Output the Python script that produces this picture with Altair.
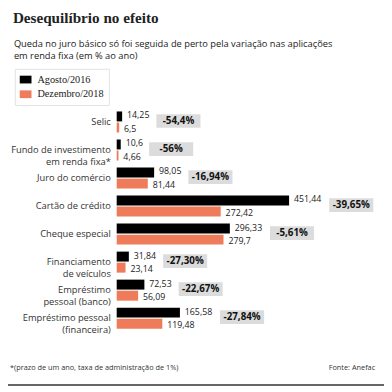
import altair as alt
import pandas as pd

categories = [
    "Selic",
    "Fundo de investimento\nem renda fixa*",
    "Juro do comércio",
    "Cartão de crédito",
    "Cheque especial",
    "Financiamento\nde veículos",
    "Empréstimo\npessoal (banco)",
    "Empréstimo pessoal\n(financeira)",
]
series = ["Agosto/2016", "Dezembro/2018"]
ago = [14.25, 10.6, 98.05, 451.44, 296.33, 31.84, 72.53, 165.58]
dez = [6.5, 4.66, 81.44, 272.42, 279.7, 23.14, 56.09, 119.48]
ago_labels = ["14,25", "10,6", "98,05", "451,44", "296,33", "31,84", "72,53", "165,58"]
dez_labels = ["6,5", "4,66", "81,44", "272,42", "279,7", "23,14", "56,09", "119,48"]
variation = ["-54,4%", "-56%", "-16,94%", "-39,65%", "-5,61%", "-27,30%", "-22,67%", "-27,84%"]

rows = []
for i, c in enumerate(categories):
    rows.append(dict(cat=c, serie=series[0], value=ago[i], label=ago_labels[i]))
    rows.append(dict(cat=c, serie=series[1], value=dez[i], label=dez_labels[i]))
long = pd.DataFrame(rows)
wide = pd.DataFrame(dict(cat=categories, ago=ago, dez=dez, agolab=ago_labels, var=variation))
one = pd.DataFrame({"a": [0]})

W, H = 273, 229
XMAX = 700
k = XMAX / W
SANS = "Open Sans"
SERIF = "Liberation Serif"

xs = alt.Scale(domain=[0, XMAX], nice=False, zero=True)
y = alt.Y("cat:N", sort=categories,
          scale=alt.Scale(domain=categories, paddingInner=0.25, paddingOuter=0.125),
          axis=None)
yoff = alt.YOffset("serie:N", sort=series,
                   scale=alt.Scale(domain=series, paddingInner=0.1, paddingOuter=0))
color = alt.Color(
    "serie:N",
    scale=alt.Scale(domain=series, range=["#000000", "#EE7C5B"]),
    legend=alt.Legend(
        title=None, orient="none", legendX=-104, legendY=-40,
        strokeColor="#E2E2E2", padding=5, fillColor="white",
        symbolType="M-1,-0.66H1V0.66H-1Z", symbolSize=144, symbolStrokeWidth=0,
        labelFont=SERIF, labelFontSize=10.5, labelColor="#222", labelOffset=6,
        rowPadding=3,
    ),
)

bars = alt.Chart(long).mark_bar().encode(
    x=alt.X("value:Q", scale=xs, axis=None), y=y, yOffset=yoff, color=color
)
vals_a = alt.Chart(long).transform_filter(
    alt.datum.serie == series[0]
).mark_text(
    align="left", baseline="middle", dx=5, dy=-1, font=SANS, fontSize=9, color="#222"
).encode(x=alt.X("value:Q", scale=xs, axis=None), y=y, yOffset=yoff, text="label:N")
vals_d = alt.Chart(long).transform_filter(
    alt.datum.serie == series[1]
).mark_text(
    align="left", baseline="middle", dx=5, dy=1.5, font=SANS, fontSize=9, color="#222"
).encode(x=alt.X("value:Q", scale=xs, axis=None), y=y, yOffset=yoff, text="label:N")

box_base = alt.Chart(wide).transform_calculate(
    bx="max(datum.ago, datum.dez) + (5 + 6*length(datum.agolab))*%f" % k
).transform_calculate(
    bx2="datum.bx + 45*%f" % k, bxc="datum.bx + 22.5*%f" % k
)
boxes = box_base.mark_bar(color="#DCDCDC", size=14, yOffset=-1).encode(
    x=alt.X("bx:Q", scale=xs, axis=None), x2="bx2:Q", y=y
)
boxtext = box_base.mark_text(
    align="center", baseline="middle", font=SANS, fontWeight="bold", fontSize=10,
    color="#111", dy=-1
).encode(x=alt.X("bxc:Q", scale=xs, axis=None), y=y, text="var:N")

catlab = alt.Chart(wide).transform_calculate(
    lines="split(datum.cat, '\\n')"
).mark_text(
    align="right", baseline="middle", dx=-6, font=SANS, fontSize=9.5,
    lineHeight=12, color="#333"
).encode(x=alt.value(0), y=y, text="lines:N")

title = alt.Chart(one).mark_text(
    align="left", baseline="alphabetic", font=SERIF, fontWeight="bold",
    fontSize=15.5, color="#222"
).encode(x=alt.value(-106), y=alt.value(-87), text=alt.value("Desequilíbrio no efeito"))

subtitle = alt.Chart(one).mark_text(
    align="left", baseline="alphabetic", font=SANS, fontSize=9.5,
    lineHeight=12.5, color="#222"
).encode(
    x=alt.value(-105), y=alt.value(-62),
    text=alt.value(["Queda no juro básico só foi seguida de perto pela variação nas aplicações",
                    "em renda fixa (em % ao ano)"]),
)

foot1 = alt.Chart(one).mark_text(
    align="left", baseline="middle", font=SANS, fontSize=7.5, color="#333"
).encode(x=alt.value(-109), y=alt.value(266),
         text=alt.value("*(prazo de um ano, taxa de administração de 1%)"))
foot2 = alt.Chart(one).mark_text(
    align="right", baseline="middle", font=SANS, fontSize=7.5, color="#333"
).encode(x=alt.value(264), y=alt.value(266), text=alt.value("Fonte: Anefac"))

bottom = alt.Chart(one).mark_rule(color="#666", strokeWidth=2).encode(
    x=alt.value(-111), x2=alt.value(W), y=alt.value(283)
)

chart = alt.layer(
    boxes, bars, vals_a, vals_d, boxtext, catlab, title, subtitle, foot1, foot2, bottom
).properties(
    width=W, height=H,
    padding={"left": 111, "top": 98, "right": 0, "bottom": 57},
    autosize=alt.AutoSizeParams(type="none"),
).configure_view(stroke=None)

chart.save("out.html", embed_options={"renderer": "svg", "actions": False})
